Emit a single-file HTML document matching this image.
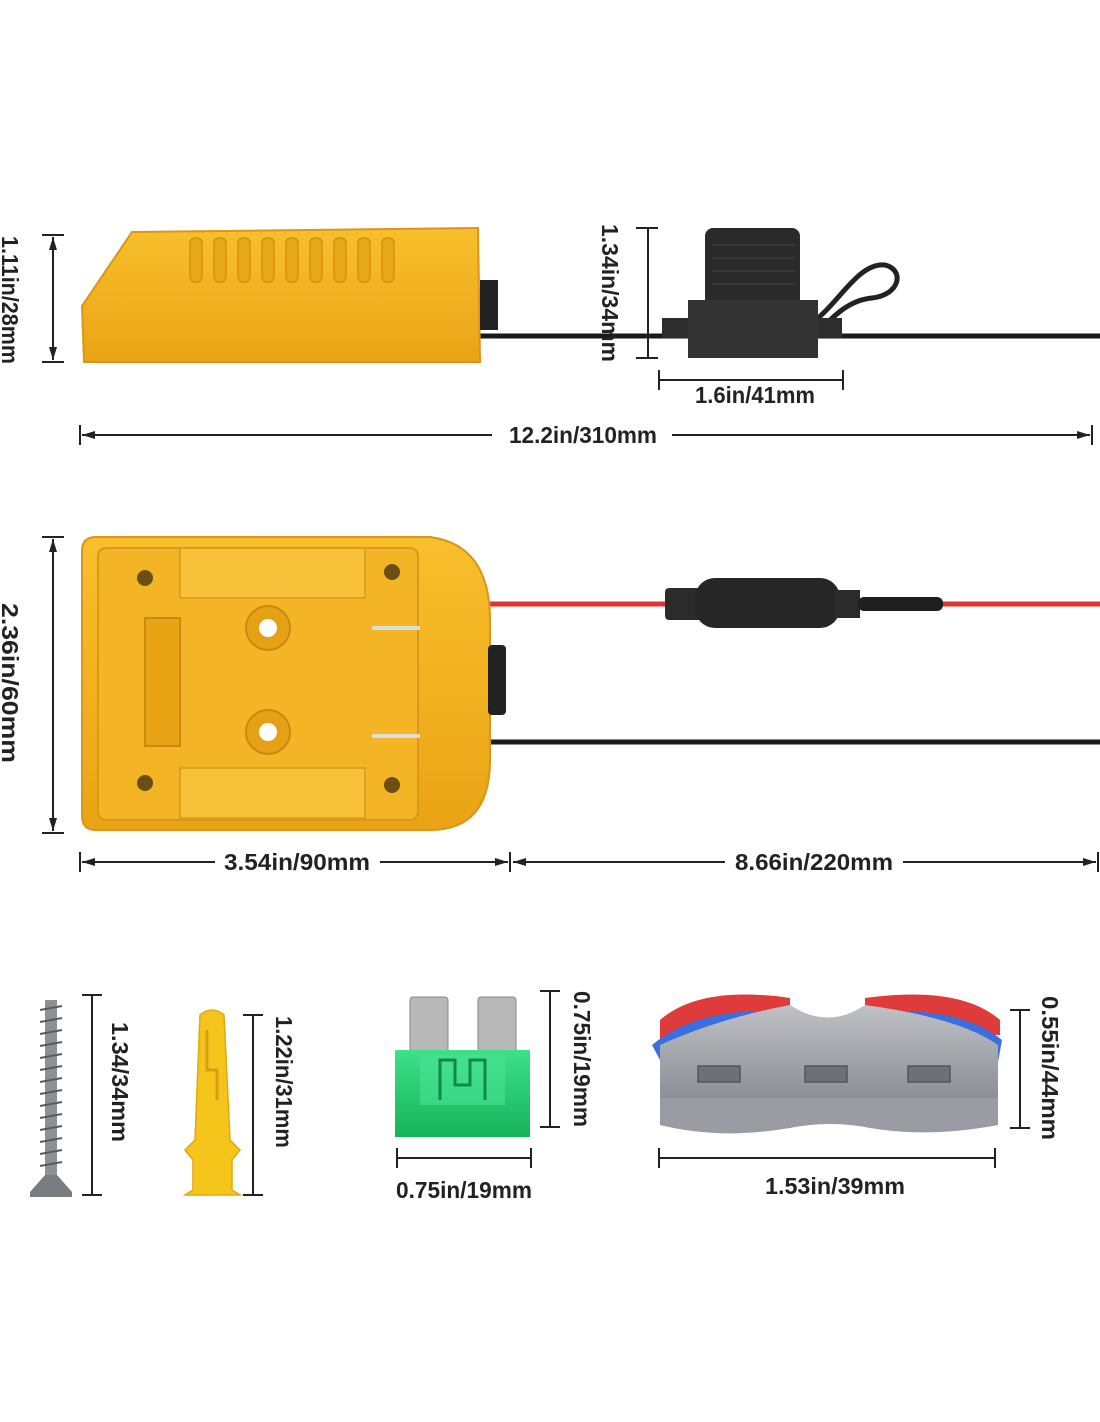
<!DOCTYPE html>
<html><head><meta charset="utf-8"><style>
html,body{margin:0;padding:0;background:#fff;}
svg{display:block;}
text{font-family:"Liberation Sans Narrow","Liberation Sans",sans-serif;font-weight:bold;fill:#222;font-size:23px;}
</style></head><body>
<svg width="1100" height="1422" viewBox="0 0 1100 1422" xmlns="http://www.w3.org/2000/svg">
<defs>
<marker id="ar" markerUnits="userSpaceOnUse" markerWidth="14" markerHeight="10" refX="13" refY="5" orient="auto-start-reverse"><path d="M0,1 L13,5 L0,9 Z" fill="#222"/></marker>
<linearGradient id="yel" x1="0" y1="0" x2="0" y2="1"><stop offset="0" stop-color="#f8bf2c"/><stop offset="1" stop-color="#eaa416"/></linearGradient>
<linearGradient id="grn" x1="0" y1="0" x2="0" y2="1"><stop offset="0" stop-color="#3ee08a"/><stop offset="1" stop-color="#16b35a"/></linearGradient>
<linearGradient id="gry" x1="0" y1="0" x2="0" y2="1"><stop offset="0" stop-color="#bfc1c6"/><stop offset="1" stop-color="#8c8f96"/></linearGradient>
</defs>
<rect width="1100" height="1422" fill="#fff"/>

<!-- TOP -->
<line x1="480" y1="336" x2="1100" y2="336" stroke="#1a1a1a" stroke-width="5"/>
<path d="M132,232 L478,228 L480,362 L84,362 L82,306 Z" fill="url(#yel)" stroke="#d8961a" stroke-width="2"/>
<g fill="#e9a818" stroke="#d39013" stroke-width="1.5">
<rect x="190" y="238" width="12" height="44" rx="5"/><rect x="214" y="238" width="12" height="44" rx="5"/><rect x="238" y="238" width="12" height="44" rx="5"/><rect x="262" y="238" width="12" height="44" rx="5"/><rect x="286" y="238" width="12" height="44" rx="5"/><rect x="310" y="238" width="12" height="44" rx="5"/><rect x="334" y="238" width="12" height="44" rx="5"/><rect x="358" y="238" width="12" height="44" rx="5"/><rect x="382" y="238" width="12" height="44" rx="5"/>
</g>
<rect x="480" y="280" width="18" height="50" fill="#222"/>
<path d="M818,318 C840,300 860,262 885,265 C905,270 900,295 872,298 C850,300 835,315 825,325" fill="none" stroke="#222" stroke-width="5"/>
<rect x="705" y="228" width="95" height="90" rx="8" fill="#2a2a2a"/>
<rect x="662" y="318" width="180" height="20" fill="#2d2d2d"/>
<rect x="688" y="300" width="130" height="58" fill="#333"/>
<g stroke="#444" stroke-width="1"><line x1="712" y1="245" x2="795" y2="245"/><line x1="712" y1="258" x2="795" y2="258"/><line x1="712" y1="271" x2="795" y2="271"/><line x1="712" y1="284" x2="795" y2="284"/></g>

<line x1="42" y1="235" x2="64" y2="235" stroke="#222" stroke-width="2"/>
<line x1="42" y1="362" x2="64" y2="362" stroke="#222" stroke-width="2"/>
<line x1="53" y1="237" x2="53" y2="360" stroke="#222" stroke-width="2" marker-start="url(#ar)" marker-end="url(#ar)"/>
<text transform="translate(2,300) rotate(90)" text-anchor="middle" textLength="128" lengthAdjust="spacingAndGlyphs">1.11in/28mm</text>
<line x1="636" y1="228" x2="658" y2="228" stroke="#222" stroke-width="2"/>
<line x1="636" y1="358" x2="658" y2="358" stroke="#222" stroke-width="2"/>
<line x1="648" y1="228" x2="648" y2="358" stroke="#222" stroke-width="2"/>
<text transform="translate(602,293) rotate(90)" text-anchor="middle" textLength="138" lengthAdjust="spacingAndGlyphs">1.34in/34mm</text>
<line x1="659" y1="370" x2="659" y2="390" stroke="#222" stroke-width="2"/>
<line x1="843" y1="370" x2="843" y2="390" stroke="#222" stroke-width="2"/>
<line x1="659" y1="380" x2="843" y2="380" stroke="#222" stroke-width="2"/>
<text x="755" y="403" text-anchor="middle" textLength="120" lengthAdjust="spacingAndGlyphs">1.6in/41mm</text>
<line x1="80" y1="425" x2="80" y2="445" stroke="#222" stroke-width="2"/>
<line x1="1092" y1="425" x2="1092" y2="445" stroke="#222" stroke-width="2"/>
<line x1="82" y1="435" x2="492" y2="435" stroke="#222" stroke-width="2" marker-start="url(#ar)"/>
<line x1="672" y1="435" x2="1090" y2="435" stroke="#222" stroke-width="2" marker-end="url(#ar)"/>
<text x="583" y="443" text-anchor="middle" textLength="148" lengthAdjust="spacingAndGlyphs">12.2in/310mm</text>

<!-- MIDDLE -->
<line x1="490" y1="604" x2="1100" y2="604" stroke="#e03434" stroke-width="5"/>
<line x1="490" y1="742" x2="1100" y2="742" stroke="#1a1a1a" stroke-width="5"/>
<rect x="665" y="588" width="45" height="32" rx="4" fill="#2b2b2b"/>
<rect x="695" y="578" width="145" height="50" rx="20" fill="#262626"/>
<rect x="835" y="590" width="25" height="28" fill="#2b2b2b"/>
<rect x="858" y="597" width="85" height="14" rx="6" fill="#1f1f1f"/>
<path d="M96,537 L430,537 Q490,545 490,620 L490,760 Q490,830 430,830 L96,830 Q82,830 82,816 L82,551 Q82,537 96,537 Z" fill="url(#yel)" stroke="#d8961a" stroke-width="2"/>
<rect x="98" y="548" width="320" height="272" rx="8" fill="#f3b526" stroke="#d9981a" stroke-width="2"/>
<rect x="180" y="548" width="185" height="50" fill="#f7c23a" stroke="#d9981a" stroke-width="1.5"/>
<rect x="180" y="768" width="185" height="50" fill="#f7c23a" stroke="#d9981a" stroke-width="1.5"/>
<rect x="145" y="618" width="35" height="128" fill="#e9a416" stroke="#c98a10" stroke-width="2"/>
<circle cx="268" cy="628" r="22" fill="#e5a015" stroke="#c98a10" stroke-width="2"/><circle cx="268" cy="628" r="9" fill="#fff"/>
<circle cx="268" cy="732" r="22" fill="#e5a015" stroke="#c98a10" stroke-width="2"/><circle cx="268" cy="732" r="9" fill="#fff"/>
<g fill="#6b4e12"><circle cx="145" cy="578" r="8"/><circle cx="392" cy="572" r="8"/><circle cx="145" cy="783" r="8"/><circle cx="392" cy="785" r="8"/></g>
<rect x="372" y="626" width="48" height="4" fill="#ddd"/><rect x="372" y="734" width="48" height="4" fill="#ddd"/>
<rect x="488" y="645" width="18" height="70" rx="4" fill="#222"/>

<line x1="42" y1="537" x2="64" y2="537" stroke="#222" stroke-width="2"/>
<line x1="42" y1="833" x2="64" y2="833" stroke="#222" stroke-width="2"/>
<line x1="53" y1="539" x2="53" y2="831" stroke="#222" stroke-width="2" marker-start="url(#ar)" marker-end="url(#ar)"/>
<text transform="translate(2,683) rotate(90)" text-anchor="middle" textLength="160" lengthAdjust="spacingAndGlyphs">2.36in/60mm</text>
<line x1="80" y1="852" x2="80" y2="872" stroke="#222" stroke-width="2"/>
<line x1="510" y1="852" x2="510" y2="872" stroke="#222" stroke-width="2"/>
<line x1="1098" y1="852" x2="1098" y2="872" stroke="#222" stroke-width="2"/>
<line x1="82" y1="862" x2="215" y2="862" stroke="#222" stroke-width="2" marker-start="url(#ar)"/>
<line x1="380" y1="862" x2="508" y2="862" stroke="#222" stroke-width="2" marker-end="url(#ar)"/>
<text x="297" y="870" text-anchor="middle" textLength="146" lengthAdjust="spacingAndGlyphs">3.54in/90mm</text>
<line x1="513" y1="862" x2="725" y2="862" stroke="#222" stroke-width="2" marker-start="url(#ar)"/>
<line x1="903" y1="862" x2="1096" y2="862" stroke="#222" stroke-width="2" marker-end="url(#ar)"/>
<text x="814" y="870" text-anchor="middle" textLength="158" lengthAdjust="spacingAndGlyphs">8.66in/220mm</text>

<!-- BOTTOM -->
<rect x="45" y="1000" width="12" height="178" fill="#8e9096"/>
<g stroke="#5a5c60" stroke-width="2">
<line x1="40" y1="1010" x2="62" y2="1006"/><line x1="40" y1="1022" x2="62" y2="1018"/><line x1="40" y1="1034" x2="62" y2="1030"/><line x1="40" y1="1046" x2="62" y2="1042"/><line x1="40" y1="1058" x2="62" y2="1054"/><line x1="40" y1="1070" x2="62" y2="1066"/><line x1="40" y1="1082" x2="62" y2="1078"/><line x1="40" y1="1094" x2="62" y2="1090"/><line x1="40" y1="1106" x2="62" y2="1102"/><line x1="40" y1="1118" x2="62" y2="1114"/><line x1="40" y1="1130" x2="62" y2="1126"/><line x1="40" y1="1142" x2="62" y2="1138"/><line x1="40" y1="1154" x2="62" y2="1150"/><line x1="40" y1="1166" x2="62" y2="1162"/></g>
<path d="M45,1175 L57,1175 L72,1192 L72,1197 L30,1197 L30,1192 Z" fill="#7a7c82"/>
<line x1="82" y1="995" x2="102" y2="995" stroke="#222" stroke-width="2"/>
<line x1="82" y1="1195" x2="102" y2="1195" stroke="#222" stroke-width="2"/>
<line x1="92" y1="995" x2="92" y2="1195" stroke="#222" stroke-width="2"/>
<text transform="translate(112,1082) rotate(90)" text-anchor="middle" textLength="120" lengthAdjust="spacingAndGlyphs">1.34/34mm</text>
<path d="M200,1015 Q212,1005 224,1015 L230,1140 L240,1150 L232,1160 L232,1190 L240,1195 L185,1195 L193,1190 L193,1160 L185,1150 L195,1140 Z" fill="#f6c51c" stroke="#e0a90f" stroke-width="1.5"/>
<path d="M207,1030 L207,1070 L217,1070 L217,1100" fill="none" stroke="#d89e10" stroke-width="3"/>
<line x1="243" y1="1015" x2="263" y2="1015" stroke="#222" stroke-width="2"/>
<line x1="243" y1="1195" x2="263" y2="1195" stroke="#222" stroke-width="2"/>
<line x1="253" y1="1015" x2="253" y2="1195" stroke="#222" stroke-width="2"/>
<text transform="translate(276,1082) rotate(90)" text-anchor="middle" textLength="132" lengthAdjust="spacingAndGlyphs">1.22in/31mm</text>
<rect x="410" y="997" width="38" height="60" rx="3" fill="#b8b8b8" stroke="#888"/>
<rect x="478" y="997" width="38" height="60" rx="3" fill="#b8b8b8" stroke="#888"/>
<path d="M395,1050 L530,1050 L530,1137 L395,1137 Z" fill="url(#grn)"/>
<rect x="420" y="1055" width="85" height="50" fill="#48e396" opacity="0.6"/>
<path d="M440,1100 L440,1060 L455,1060 L455,1085 L470,1085 L470,1060 L485,1060 L485,1100" fill="none" stroke="#0e8a45" stroke-width="3"/>
<line x1="540" y1="991" x2="560" y2="991" stroke="#222" stroke-width="2"/>
<line x1="540" y1="1127" x2="560" y2="1127" stroke="#222" stroke-width="2"/>
<line x1="550" y1="991" x2="550" y2="1127" stroke="#222" stroke-width="2"/>
<text transform="translate(574,1059) rotate(90)" text-anchor="middle" textLength="136" lengthAdjust="spacingAndGlyphs">0.75in/19mm</text>
<line x1="397" y1="1148" x2="397" y2="1168" stroke="#222" stroke-width="2"/>
<line x1="531" y1="1148" x2="531" y2="1168" stroke="#222" stroke-width="2"/>
<line x1="397" y1="1158" x2="531" y2="1158" stroke="#222" stroke-width="2"/>
<text x="464" y="1198" text-anchor="middle" textLength="136" lengthAdjust="spacingAndGlyphs">0.75in/19mm</text>
<!-- connector -->
<path d="M660,1020 Q700,985 790,998 L790,1030 L660,1040 Z" fill="#e03b3b"/>
<path d="M865,998 Q960,985 1000,1020 L1000,1035 L865,1030 Z" fill="#e03b3b"/>
<path d="M652,1045 Q700,1005 790,1012 L790,1040 L660,1060 Z" fill="#3a6fe0"/>
<path d="M865,1012 Q960,1005 1002,1040 L998,1062 L865,1040 Z" fill="#3a6fe0"/>
<path d="M660,1045 Q720,1018 790,1005 Q828,1030 865,1005 Q960,1018 998,1045 L998,1098 L660,1098 Z" fill="url(#gry)"/>
<path d="M660,1098 L998,1098 L998,1125 Q930,1138 870,1128 Q830,1120 790,1128 Q720,1140 660,1125 Z" fill="#9a9ca3"/>
<g fill="#6e7077" stroke="#555" stroke-width="1.5"><rect x="698" y="1066" width="42" height="16"/><rect x="805" y="1066" width="42" height="16"/><rect x="908" y="1066" width="42" height="16"/></g>
<line x1="1010" y1="1010" x2="1030" y2="1010" stroke="#222" stroke-width="2"/>
<line x1="1010" y1="1128" x2="1030" y2="1128" stroke="#222" stroke-width="2"/>
<line x1="1020" y1="1010" x2="1020" y2="1128" stroke="#222" stroke-width="2"/>
<text transform="translate(1042,1068) rotate(90)" text-anchor="middle" textLength="144" lengthAdjust="spacingAndGlyphs">0.55in/44mm</text>
<line x1="659" y1="1148" x2="659" y2="1168" stroke="#222" stroke-width="2"/>
<line x1="995" y1="1148" x2="995" y2="1168" stroke="#222" stroke-width="2"/>
<line x1="659" y1="1158" x2="995" y2="1158" stroke="#222" stroke-width="2"/>
<text x="835" y="1194" text-anchor="middle" textLength="140" lengthAdjust="spacingAndGlyphs">1.53in/39mm</text>
</svg>
</body></html>
